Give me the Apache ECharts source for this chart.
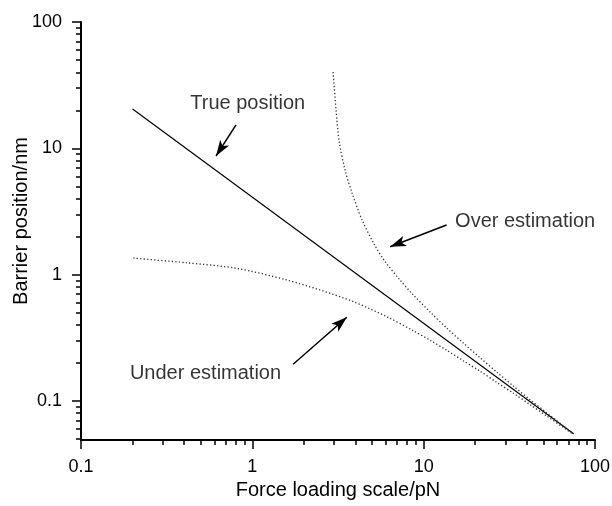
<!DOCTYPE html>
<html>
<head>
<meta charset="utf-8">
<script src="https://cdn.jsdelivr.net/npm/echarts@6/dist/echarts.min.js"></script>
<style>html,body{margin:0;padding:0;background:#fff;}#c{width:612px;height:506px;}</style>
</head>
<body>
<div id="c"></div>
<script>
// ---- data (natural units) ----
var trueX = [0.2, 75];
var trueY = [20.5, 0.055];

var overX = [2.96, 3.08, 3.21, 3.47, 3.82, 4.37, 5.2, 5.95, 7.28, 8.71, 10.9, 13.6, 17.1, 21.3, 26.7, 33.4, 41.8, 52.4, 65.5, 74.2];
var overY = [40.2, 20.1, 11.4, 6.81, 4.43, 2.71, 1.69, 1.27, 0.904, 0.689, 0.506, 0.378, 0.286, 0.220, 0.169, 0.131, 0.102, 0.0802, 0.0632, 0.0556];

var underX = [0.202, 0.414, 0.811, 1.59, 2.48, 3.89, 6.09, 8.71, 10.9, 13.6, 17.1, 21.3, 26.7, 33.4, 41.8, 52.4, 65.5, 74.2];
var underY = [1.35, 1.24, 1.12, 0.906, 0.755, 0.61, 0.464, 0.359, 0.302, 0.252, 0.207, 0.172, 0.140, 0.115, 0.0933, 0.0757, 0.0614, 0.0547];

// tick labels
var xMajor = [0.1, 1, 10, 100];
var xMajorLabels = ['0.1', '1', '10', '100'];
var yMajor = [0.1, 1, 10, 100];
var yMajorLabels = ['0.1', '1', '10', '100'];
var xMinor = [0.2,0.3,0.4,0.5,0.6,0.7,0.8,0.9, 2,3,4,5,6,7,8,9, 20,30,40,50,60,70,80,90];
var yMinor = [0.05,0.06,0.07,0.08,0.09, 0.2,0.3,0.4,0.5,0.6,0.7,0.8,0.9, 2,3,4,5,6,7,8,9, 20,30,40,50,60,70,80,90];
var xRange = [0.1, 100];
var yRange = [0.049, 100];

// annotations: text + arrows (tail -> tip), in data units
var annoNames = ['True position', 'Over estimation', 'Under estimation'];
var annoX = [0.94, 39.1, 0.533];
var annoY = [22.6, 2.61, 0.165];
var arrowTailX = [0.803, 13.6, 1.73];
var arrowTailY = [15.3, 2.47, 0.195];
var arrowTipX = [0.614, 6.37, 3.56];
var arrowTipY = [8.69, 1.66, 0.459];

// ---- build ----
var L = Math.log10;
function pts(xs, ys) { return xs.map(function (x, i) { return [L(x), L(ys[i])]; }); }
function labelFor(values, labels) {
  return function (v) {
    for (var i = 0; i < values.length; i++) if (Math.abs(L(values[i]) - v) < 1e-6) return labels[i];
    return '';
  };
}
var FONT = 'Liberation Sans, Arial, sans-serif';

function majorAxis(range, name, extra) {
  return Object.assign({
    type: 'value', min: L(range[0]), max: L(range[1]),
    splitLine: { show: false },
    axisLine: { show: true, onZero: false, lineStyle: { color: '#000', width: 2 } },
    axisTick: { show: true, inside: false, length: 9, lineStyle: { color: '#000', width: 1.5 } },
    name: name, nameLocation: 'middle', nameMoveOverlap: false
  }, extra);
}
function minorAxis(range, minor, pos) {
  return {
    type: 'value', min: L(range[0]), max: L(range[1]), position: pos,
    splitLine: { show: false },
    axisLine: { show: false, onZero: false },
    axisTick: { show: true, inside: false, length: 5, lineStyle: { color: '#000', width: 1.5 }, customValues: minor.map(L) },
    axisLabel: { show: false }
  };
}

var xMain = majorAxis(xRange, 'Force loading scale/pN', {
  position: 'bottom', nameGap: 40,
  nameTextStyle: { color: '#000', fontSize: 20, fontFamily: FONT },
  axisLabel: { show: true, margin: 18, color: '#000', fontSize: 18, fontFamily: FONT,
    customValues: xMajor.map(L), formatter: labelFor(xMajor, xMajorLabels) }
});
xMain.axisTick.customValues = xMajor.map(L);
var yMain = majorAxis(yRange, 'Barrier position/nm', {
  position: 'left', nameGap: 50, nameRotate: 90,
  nameTextStyle: { color: '#000', fontSize: 20, fontFamily: FONT, padding: [0, 0, 0, 20] },
  axisLabel: { show: true, margin: 19, color: '#000', fontSize: 18, fontFamily: FONT,
    customValues: yMajor.map(L), formatter: labelFor(yMajor, yMajorLabels) }
});
yMain.axisTick.customValues = yMajor.map(L);

var option = {
  backgroundColor: '#fff',
  animation: false,
  grid: { left: 81, right: 17, top: 22, bottom: 66, containLabel: false, outerBoundsMode: 'none' },
  xAxis: [xMain, minorAxis(xRange, xMinor, 'bottom')],
  yAxis: [yMain, minorAxis(yRange, yMinor, 'left')],
  series: [
    {
      name: 'True position', type: 'line', xAxisIndex: 0, yAxisIndex: 0,
      data: pts(trueX, trueY), showSymbol: false, symbol: 'none',
      lineStyle: { color: '#000', width: 1.2, type: 'solid' }
    },
    {
      name: 'Over estimation', type: 'line', xAxisIndex: 0, yAxisIndex: 0,
      data: pts(overX, overY), showSymbol: false, symbol: 'none', smooth: 0.3,
      lineStyle: { color: '#333', width: 1.3, type: [1.3, 2.2] }
    },
    {
      name: 'Under estimation', type: 'line', xAxisIndex: 0, yAxisIndex: 0,
      data: pts(underX, underY), showSymbol: false, symbol: 'none', smooth: 0.3,
      lineStyle: { color: '#333', width: 1.3, type: [1.3, 2.2] },
      markLine: {
        silent: true, animation: false,
        symbol: ['none', 'arrow'], symbolSize: [8, 16],
        lineStyle: { color: '#000', width: 1.5, type: 'solid' },
        label: { show: false },
        emphasis: { disabled: true },
        data: arrowTailX.map(function (x, i) {
          return [
            { coord: [L(x), L(arrowTailY[i])] },
            { coord: [L(arrowTipX[i]), L(arrowTipY[i])] }
          ];
        })
      }
    },
    {
      name: 'labels', type: 'scatter', xAxisIndex: 0, yAxisIndex: 0,
      symbolSize: 0, itemStyle: { color: '#000' }, silent: true,
      emphasis: { disabled: true },
      data: annoNames.map(function (n, i) { return { name: n, value: [L(annoX[i]), L(annoY[i])] }; }),
      label: { show: true, position: 'inside', formatter: '{b}', color: '#000', fontSize: 20, fontFamily: FONT }
    }
  ]
};

var chart = echarts.init(document.getElementById('c'), null, { renderer: 'canvas' });
chart.setOption(option);
</script>
</body>
</html>
